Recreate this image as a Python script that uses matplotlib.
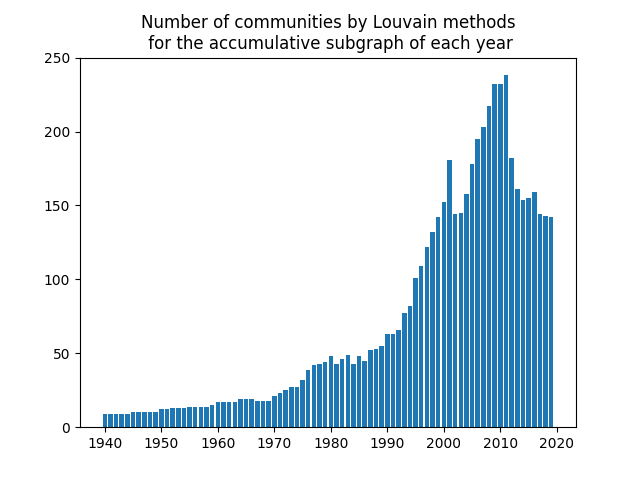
import matplotlib
matplotlib.use("Agg")
import matplotlib.pyplot as plt

years = list(range(1940, 2020))
counts = [9, 9, 9, 9, 9, 10, 10, 10, 10, 10,
          12, 12, 13, 13, 13, 14, 14, 14, 14, 15,
          17, 17, 17, 17, 19, 19, 19, 18, 18, 18,
          21, 23, 25, 27, 27, 32, 39, 42, 43, 44,
          48, 43, 46, 49, 43, 48, 45, 52, 53, 55,
          63, 63, 66, 77, 82, 101, 109, 122, 132, 142,
          152, 181, 144, 145, 158, 178, 195, 203, 217, 232,
          232, 238, 182, 161, 154, 155, 159, 144, 143, 142]

fig, ax = plt.subplots(figsize=(6.4, 4.8), dpi=100)
ax.bar(years, counts)
ax.set_title("Number of communities by Louvain methods\n for the accumulative subgraph of each year")
ax.set_ylim(0, 250)
plt.savefig("out.png")
